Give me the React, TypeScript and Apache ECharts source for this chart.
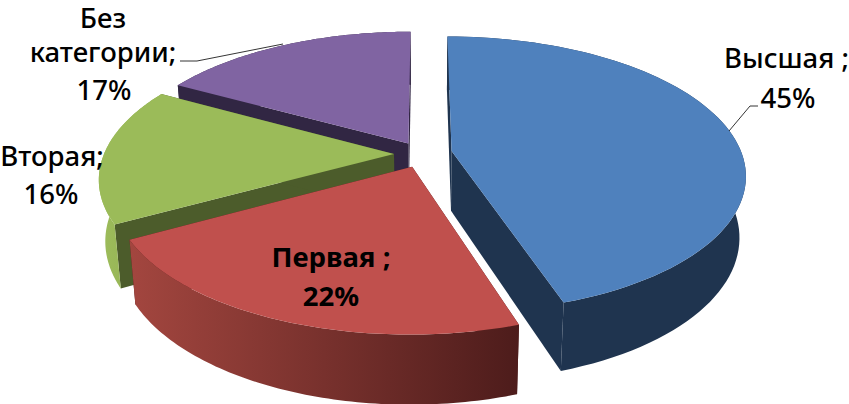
import React, { useEffect, useRef } from "react";
import * as echarts from "echarts";

const categories = ["Высшая", "Первая", "Вторая", "Без категории"];
const values = [45, 22, 16, 17];
const labelLines = [["Высшая ;", "45%"], ["Первая ;", "22%"], ["Вторая;", "16%"], ["Без", "категории;", "17%"]];
const topColors = ["#4F81BD", "#C0504D", "#9BBB59", "#8064A2"];
const wallColors = ["#1F344F", "#4D1C1B", "#4C5C2B", "#312643"];
const arcFrom = ["#1F344F", "#A3463F", "#9DBD5B", "#312643"];
const arcTo = ["#1F344F", "#4D1C1B", "#8FAA50", "#312643"];
const drawOrder = [3, 2, 0, 1];

const FONT = '"Noto Sans", sans-serif';
const CX = 423, CY = 155, RX = 290, RY = 134.5, P = 0.17, DEPTH = 60, SHRINK = 0.02, EXPLODE = 0.1;
const sliceNudgeY = [-2, -1, -1, 0];
const labelAnchors = [
  [[786.5, 58], [788, 98]],
  [[331, 257], [331, 296]],
  [[52, 156], [51, 194]],
  [[103, 18], [103, 52], [104, 90]],
];
const labelBold = [false, true, false, false];
const leaders = [
  [[729, 131], [750, 106], [758, 106]],
  [],
  [],
  [[283, 44], [197, 61], [180, 61]],
];

function project(x: number, y: number, z: number, nudge: number) {
  const s = 1 / (1 - P * y);
  const k = 1 - SHRINK * z;
  return [CX + RX * x * s * k, CY + nudge + RY * y * s * k + DEPTH * s * z];
}

const total = values.reduce((a, b) => a + b, 0);

function renderSlice(params: any, api: any) {
  const i = drawOrder[params.dataIndex];
  const before = values.slice(0, i).reduce((a, b) => a + b, 0);
  const a0 = (before / total) * Math.PI * 2;
  const a1 = ((before + api.value(0)) / total) * Math.PI * 2;
  const mid = (a0 + a1) / 2;
  const ex = EXPLODE * Math.sin(mid);
  const ey = -EXPLODE * Math.cos(mid);
  const n = sliceNudgeY[i];
  const arc = (z: number) => {
    const pts: number[][] = [];
    const steps = 80;
    for (let k = 0; k <= steps; k++) {
      const a = a0 + ((a1 - a0) * k) / steps;
      pts.push(project(ex + Math.sin(a), ey - Math.cos(a), z, n));
    }
    return pts;
  };
  const topArc = arc(0);
  const botArc = arc(1);
  const apexT = project(ex, ey, 0, n);
  const apexB = project(ex, ey, 1, n);
  const children: any[] = [];
  const poly = (points: number[][], fill: any) => ({
    type: "polygon",
    shape: { points },
    style: { fill, stroke: null },
  });
  children.push(poly([topArc[0], apexT, apexB, botArc[0]], wallColors[i]));
  children.push(poly([topArc[topArc.length - 1], apexT, apexB, botArc[botArc.length - 1]], wallColors[i]));
  children.push(
    poly(
      [...topArc, ...botArc.slice().reverse()],
      new echarts.graphic.LinearGradient(0, 0, 1, 0, [
        { offset: 0, color: arcFrom[i] },
        { offset: 1, color: arcTo[i] },
      ])
    )
  );
  children.push(poly([apexT, ...topArc], topColors[i]));
  if (leaders[i].length) {
    children.push({
      type: "polyline",
      shape: { points: leaders[i] },
      style: { fill: null, stroke: "#000", lineWidth: 0.8 },
    });
  }
  labelLines[i].forEach((line, l) => {
    const [x, y] = labelAnchors[i][l];
    children.push({
      type: "text",
      x,
      y,
      scaleX: 1.02,
      style: {
        text: line,
        align: "center",
        verticalAlign: "middle",
        fill: "#000",
        fontFamily: FONT,
        fontSize: 27,
        fontWeight: labelBold[i] ? 700 : 500,
      },
    });
  });
  return { type: "group", children };
}

export default function App() {
  const ref = useRef<HTMLDivElement>(null);
  useEffect(() => {
    const chart = echarts.init(ref.current!, null, { renderer: "svg" });
    chart.setOption({
      animation: false,
      backgroundColor: "#fff",
      series: [
        {
          type: "custom",
          coordinateSystem: "none",
          silent: true,
          renderItem: renderSlice,
          data: drawOrder.map((i) => ({ name: categories[i], value: [values[i]] })),
        },
      ],
    });
    return () => chart.dispose();
  }, []);
  return <div ref={ref} style={{ position: "absolute", left: 0, top: 0, width: 849, height: 404 }} />;
}
